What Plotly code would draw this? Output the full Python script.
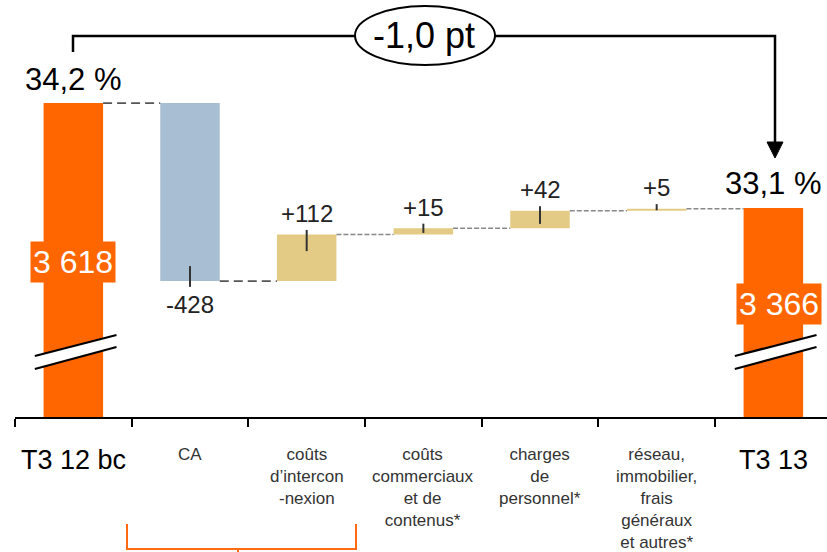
import plotly.graph_objects as go

# ---------------- data ----------------
categories = ["T3 12 bc", "CA", "coûts<br>d’intercon<br>-nexion",
              "coûts<br>commerciaux<br>et de<br>contenus*",
              "charges<br>de<br>personnel*",
              "réseau,<br>immobilier,<br>frais<br>généraux<br>et autres*",
              "T3 13"]
start_value = 3618
end_value = 3366
deltas = [-428, 112, 15, 42, 5]
start_margin = "34,2 %"
end_margin = "33,1 %"
margin_change = "-1,0 pt"

# ---------------- styles ----------------
ORANGE = "#FF6600"
BLUE = "#A7BED3"
TAN = "#E4CB85"
FONT = "Liberation Sans"
W, H = 827, 552
ML, MB = 15, 135
PW, PH = W - ML, H - MB
BW = 0.51
YR = [2863, 3866]


def px(x):
    return (x - ML) / PW


def py(y):
    return 1 - y / PH


def fmt(v):
    return f"{v:,}".replace(",", " ")


n = len(categories)
xs = list(range(n))

# cumulative levels
levels = [start_value]
for d in deltas:
    levels.append(levels[-1] + d)

fig = go.Figure()

# totals
fig.add_trace(go.Bar(x=[0, n - 1], y=[start_value, end_value], base=0,
                     width=BW, marker=dict(color=ORANGE, line_width=0),
                     hoverinfo="skip"))
# deltas
d_x = xs[1:-1]
d_base = [min(levels[i], levels[i + 1]) for i in range(len(deltas))]
d_h = [abs(d) for d in deltas]
d_col = [BLUE if d < 0 else TAN for d in deltas]
fig.add_trace(go.Bar(x=d_x, y=d_h, base=d_base, width=BW,
                     marker=dict(color=d_col, line_width=0), hoverinfo="skip"))

# connectors
for i in range(len(levels)):
    lvl = levels[i]
    if i == 0 or i == 1:
        line = dict(color="#555555", width=1.8, dash="9px,5px")
    else:
        line = dict(color="#888888", width=1.5, dash="5px,2px")
    fig.add_trace(go.Scatter(x=[i + BW / 2, i + 1 - BW / 2], y=[lvl, lvl],
                             mode="lines", line=line, hoverinfo="skip"))

# small ticks on delta bars
for k, d in enumerate(deltas):
    i = k + 1
    end = levels[k + 1]
    if d > 0:
        ys = [end + 11, end - min(0.75 * d, 40)]
    else:
        ys = [end + 36, end - 14]
    fig.add_trace(go.Scatter(x=[i, i], y=ys, mode="lines",
                             line=dict(color="#333333", width=2), hoverinfo="skip"))

ann = []
# delta labels
for k, d in enumerate(deltas):
    ann.append(dict(x=k + 1, y=levels[k + 1], xref="x", yref="y",
                    text=f"{d:+d}", showarrow=False, yanchor="middle",
                    yshift=21 if d > 0 else -23,
                    font=dict(family=FONT, size=24, color="#222222")))
# margin labels
ann.append(dict(x=0, y=start_value, xref="x", yref="y", text=start_margin,
                showarrow=False, yanchor="middle", yshift=24,
                font=dict(family=FONT, size=31, color="#000000")))
ann.append(dict(x=n - 1, y=end_value, xref="x", yref="y", text=end_margin,
                showarrow=False, yanchor="middle", yshift=24,
                font=dict(family=FONT, size=31, color="#000000")))
# value boxes
ann.append(dict(x=0, y=py(262), xref="x", yref="paper", text=fmt(start_value),
                showarrow=False, yanchor="middle", bgcolor=ORANGE, borderpad=2,
                font=dict(family=FONT, size=32, color="#FFFFFF")))
ann.append(dict(x=n - 1 + 0.05, y=py(304), xref="x", yref="paper", text=fmt(end_value),
                showarrow=False, yanchor="middle", bgcolor=ORANGE, borderpad=2,
                font=dict(family=FONT, size=32, color="#FFFFFF")))
# category labels
for i, c in enumerate(categories):
    big = i in (0, n - 1)
    ann.append(dict(x=i, y=py(443), xref="x", yref="paper", text=c,
                    showarrow=False, yanchor="top",
                    font=dict(family=FONT, size=27 if big else 17,
                              color="#000000" if big else "#333333")))
# change label
ann.append(dict(x=px(424), y=py(35), xref="paper", yref="paper", text=margin_change,
                showarrow=False, yanchor="middle", xanchor="center",
                font=dict(family=FONT, size=36, color="#000000")))

shapes = []
# bracket line
shapes.append(dict(type="path", xref="paper", yref="paper",
                   path=f"M {px(73)},{py(52)} L {px(73)},{py(36)} L {px(775)},{py(36)} L {px(775)},{py(145)}",
                   line=dict(color="#000000", width=2.5)))
shapes.append(dict(type="path", xref="paper", yref="paper",
                   path=f"M {px(767)},{py(142)} L {px(783)},{py(142)} L {px(775)},{py(158)} Z",
                   fillcolor="#000000", line=dict(color="#000000", width=1)))
shapes.append(dict(type="circle", xref="paper", yref="paper",
                   x0=px(355), x1=px(495), y0=py(65), y1=py(6),
                   fillcolor="#FFFFFF", line=dict(color="#000000", width=2)))
# axis-break marks
for i in (0, n - 1):
    xa, xb = i - 0.33, i + 0.37
    shapes.append(dict(type="path", xref="x", yref="paper",
                       path=f"M {xa},{py(356)} L {xb},{py(335)} L {xb},{py(347)} L {xa},{py(369)} Z",
                       fillcolor="#FFFFFF", line=dict(width=0)))
    shapes.append(dict(type="line", xref="x", yref="paper", x0=xa, x1=xb,
                       y0=py(356), y1=py(335), line=dict(color="#000000", width=2.2)))
    shapes.append(dict(type="line", xref="x", yref="paper", x0=xa, x1=xb,
                       y0=py(369), y1=py(347), line=dict(color="#000000", width=2.2)))
# orange bracket below
shapes.append(dict(type="path", xref="paper", yref="paper",
                   path=f"M {px(127)},{py(524)} L {px(127)},{py(549)} L {px(356)},{py(549)} L {px(356)},{py(524)}",
                   line=dict(color="#FF6A13", width=2)))
shapes.append(dict(type="line", xref="paper", yref="paper",
                   x0=px(238), x1=px(238), y0=py(549), y1=py(556),
                   line=dict(color="#FF6A13", width=2)))

fig.update_layout(
    width=W, height=H,
    margin=dict(l=ML, r=0, t=0, b=MB, pad=0),
    paper_bgcolor="#FFFFFF", plot_bgcolor="#FFFFFF",
    showlegend=False, barmode="overlay",
    annotations=ann, shapes=shapes,
    xaxis=dict(range=[-0.5, -0.5 + PW / 116.67], tickvals=[i - 0.5 for i in range(n + 1)],
               ticks="outside", ticklen=8, tickwidth=2, tickcolor="#000000",
               showticklabels=False, showline=True, linecolor="#000000", linewidth=2,
               showgrid=False, zeroline=False, fixedrange=True),
    yaxis=dict(range=YR, visible=False, showgrid=False, zeroline=False, fixedrange=True),
)

fig.write_html("out.html")
